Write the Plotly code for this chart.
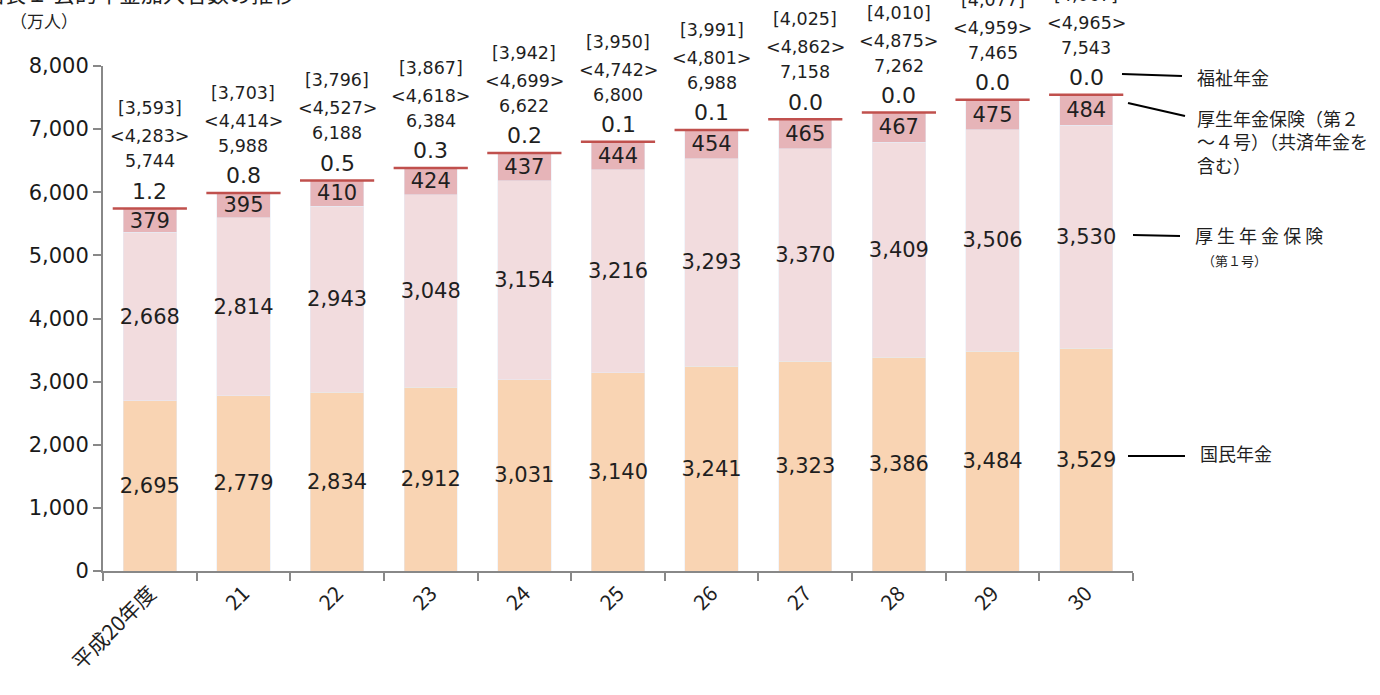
import plotly.graph_objects as go

# 公的年金加入者数の推移（万人）
years = ["平成20年度", "21", "22", "23", "24", "25", "26", "27", "28", "29", "30"]
kokumin = [2695, 2779, 2834, 2912, 3031, 3140, 3241, 3323, 3386, 3484, 3529]
kosei_1 = [2668, 2814, 2943, 3048, 3154, 3216, 3293, 3370, 3409, 3506, 3530]
kosei_2_4 = [379, 395, 410, 424, 437, 444, 454, 465, 467, 475, 484]
fukushi = [1.2, 0.8, 0.5, 0.3, 0.2, 0.1, 0.1, 0.0, 0.0, 0.0, 0.0]
totals = [5744, 5988, 6188, 6384, 6622, 6800, 6988, 7158, 7262, 7465, 7543]
angle_totals = ["<4,283>", "<4,414>", "<4,527>", "<4,618>", "<4,699>", "<4,742>",
                "<4,801>", "<4,862>", "<4,875>", "<4,959>", "<4,965>"]
square_totals = ["[3,593]", "[3,703]", "[3,796]", "[3,867]", "[3,942]", "[3,950]",
                 "[3,991]", "[4,025]", "[4,010]", "[4,077]", "[4,067]"]

W, H = 1380, 695
L, R, T, B = 103, 247, 66, 124
PW, PH = W - L - R, H - T - B

NUM_FONT = "DejaVu Sans, Verdana, sans-serif"
JP_FONT = "Noto Sans CJK JP, sans-serif"
TXT = "#1f1f1f"


def px_x(px):
    return (px - L) / PW


def px_y(py):
    return (H - B - py) / PH


def fmt(v):
    return f"{v:,}"


fig = go.Figure()

seg_style = dict(
    textposition="inside", insidetextanchor="middle", textangle=0,
    constraintext="none", textfont=dict(family=NUM_FONT, size=21, color=TXT),
    hoverinfo="skip",
)

fig.add_trace(go.Bar(x=years, y=kokumin, name="国民年金", marker_color="#F9D4B3",
                     text=[fmt(v) for v in kokumin], **seg_style))
fig.add_trace(go.Bar(x=years, y=kosei_1, name="厚生年金保険（第１号）", marker_color="#F2DCDE",
                     text=[fmt(v) for v in kosei_1], **seg_style))
fig.add_trace(go.Bar(x=years, y=kosei_2_4, name="厚生年金保険（第２～４号）", marker_color="#E6B4B8",
                     text=[fmt(v) for v in kosei_2_4], **seg_style))
fig.add_trace(go.Bar(x=years, y=fukushi, name="福祉年金", marker_color="#C0504D",
                     marker_line_width=0, hoverinfo="skip"))

# 福祉年金の細い帯（積み上げの最上部）
stack_top = [a + b + c + d for a, b, c, d in zip(kokumin, kosei_1, kosei_2_4, fukushi)]
fig.add_trace(go.Scatter(
    x=years, y=stack_top, mode="markers", hoverinfo="skip", showlegend=False,
    marker=dict(symbol="line-ew-open", size=53, color="#C0504D",
                line=dict(color="#C0504D", width=2.5)),
    cliponaxis=False,
))

annotations = []
for i, yr in enumerate(years):
    top = stack_top[i]
    annotations.append(dict(x=i, y=top, xref="x", yref="y", text=f"{fukushi[i]:.1f}",
                            showarrow=False, yanchor="middle", yshift=17,
                            font=dict(family=NUM_FONT, size=22, color=TXT)))
    annotations.append(dict(x=i, y=top, xref="x", yref="y", text=fmt(totals[i]),
                            showarrow=False, yanchor="middle", yshift=47,
                            font=dict(family=NUM_FONT, size=17.5, color=TXT)))
    annotations.append(dict(x=i, y=top, xref="x", yref="y", text=angle_totals[i],
                            showarrow=False, yanchor="middle", yshift=72,
                            font=dict(family=NUM_FONT, size=17.5, color=TXT)))
    annotations.append(dict(x=i, y=top, xref="x", yref="y", text=square_totals[i],
                            showarrow=False, yanchor="middle", yshift=100,
                            font=dict(family=NUM_FONT, size=17.5, color=TXT)))

# 系列名（右側）
side_labels = [
    (1195, 77, "福祉年金", 18),
    (1195, 141, "厚生年金保険（第２<br>～４号）（共済年金を<br>含む）", 18),
    (1193, 235, "厚 生 年 金 保 険", 18),
    (1200, 260, "（第１号）", 13),
    (1198, 453, "国民年金", 18),
]
for x, y, t, s in side_labels:
    annotations.append(dict(x=px_x(x), y=px_y(y), xref="paper", yref="paper", text=t,
                            showarrow=False, xanchor="left", yanchor="middle", align="left",
                            font=dict(family=JP_FONT, size=s, color=TXT)))

annotations.append(dict(x=px_x(8), y=px_y(21), xref="paper", yref="paper", text="（万人）",
                        showarrow=False, xanchor="left", yanchor="middle",
                        font=dict(family=JP_FONT, size=17, color=TXT)))
annotations.append(dict(x=px_x(-20), y=px_y(10), xref="paper", yref="paper",
                        text="図表１ 公的年金加入者数の推移",
                        showarrow=False, xanchor="left", yanchor="bottom",
                        font=dict(family=JP_FONT, size=22, color=TXT)))

shapes = []
for x0, y0, x1, y1 in [(1122, 74, 1182, 76), (1128, 103, 1185, 116),
                       (1133, 235, 1180, 236), (1128, 456, 1185, 456)]:
    shapes.append(dict(type="line", xref="paper", yref="paper",
                       x0=px_x(x0), y0=px_y(y0), x1=px_x(x1), y1=px_y(y1),
                       line=dict(color="#000000", width=2.2)))

fig.update_layout(
    width=W, height=H, autosize=False,
    margin=dict(l=L, r=R, t=T, b=B, pad=0),
    paper_bgcolor="white", plot_bgcolor="white",
    barmode="stack", bargap=0.43, showlegend=False,
    annotations=annotations, shapes=shapes,
    xaxis=dict(type="category", range=[-0.5, len(years) - 0.5], showline=True,
               linecolor="#888888", linewidth=2,
               ticks="outside", tickson="boundaries", ticklen=8, tickcolor="#888888",
               tickwidth=2, tickangle=-45, tickfont=dict(family=JP_FONT, size=21, color=TXT),
               showgrid=False, zeroline=False),
    yaxis=dict(range=[0, 8000], dtick=1000, tickformat=",d", showline=True,
               linecolor="#888888", linewidth=2, ticks="outside", ticklen=8,
               tickcolor="#888888", tickwidth=2, showgrid=False, zeroline=False,
               tickfont=dict(family=NUM_FONT, size=21, color="#1a1a1a")),
)

fig.write_html("out.html")
